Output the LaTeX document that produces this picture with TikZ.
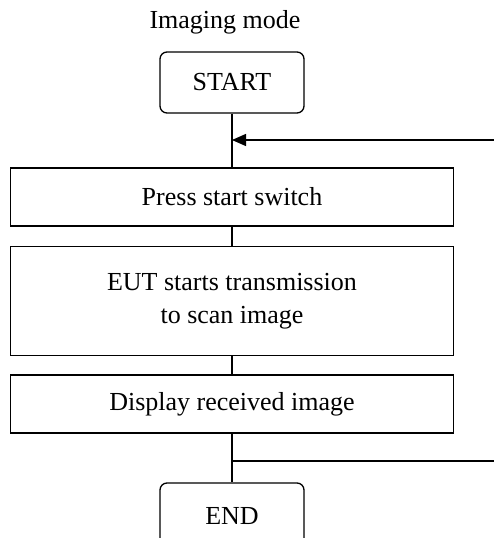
\documentclass[tikz,border=0pt]{standalone}
\usepackage{fontspec}
\setmainfont{Liberation Serif}
\usetikzlibrary{arrows.meta}
\tikzstyle{base} = [draw, line width=1.3pt, text centered, font=\fontsize{26}{33}\selectfont]
\tikzstyle{terminator} = [base, rectangle, rounded corners=7pt, minimum width=144pt]
\tikzstyle{process} = [base, rectangle, minimum width=443pt]
\tikzstyle{connector} = [draw, line width=1.3pt]
\tikzstyle{loop arrow} = [connector, -{Triangle[length=14pt,width=12pt]}]

\begin{document}
\begin{tikzpicture}[x=1pt, y=-1pt]

	\clip (0,0) rectangle (494,538);

	\node [font=\fontsize{26}{33}\selectfont] at (225, 22) (title) {Imaging mode};

	% main flow
	\node [terminator, minimum height=61pt] at (232, 82.5) (start) {START};
	\node [process, minimum height=58pt] at (232, 197) (press) {Press start switch};
	\node [process, minimum height=109pt, align=center] at (232, 301) (eut) {EUT starts transmission\\to scan image};
	\node [process, minimum height=58pt] at (232, 404) (display) {Display received image};
	\node [terminator, minimum height=90pt, text depth=0pt] at (232, 528) (end) {};
	\node [font=\fontsize{26}{33}\selectfont] at (232, 516) (endtext) {END};

	\path [connector] (start) -- (press);
	\path [connector] (press) -- (eut);
	\path [connector] (eut) -- (display);
	\path [connector] (display) -- (end);

	% return lines
	\coordinate (loop in) at (494, 140);
	\coordinate (loop out) at (494, 461);
	\path [loop arrow] (loop in) -- (loop in -| start);
	\path [connector] (loop out) -- (loop out -| display);

\end{tikzpicture}
\end{document}
